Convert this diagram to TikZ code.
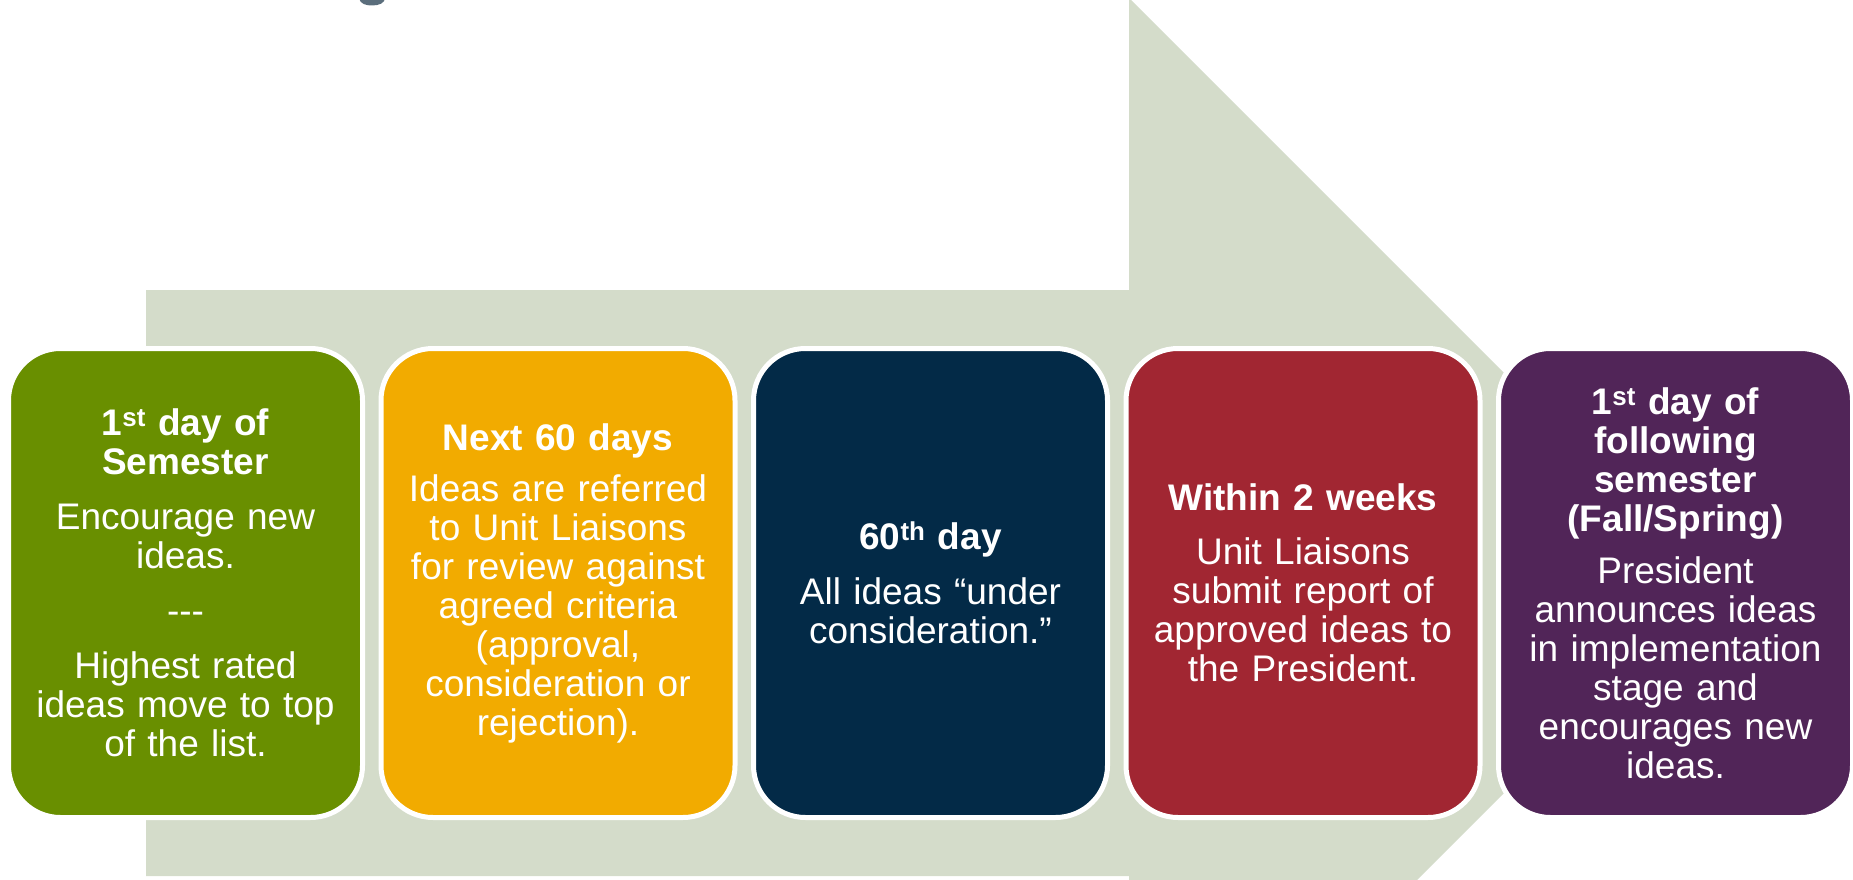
\documentclass[tikz,border=0pt]{standalone}
\usepackage{fontspec}
\setmainfont{Liberation Sans}
\definecolor{arrowgray}{HTML}{D4DCCA}
\definecolor{stepgreen}{HTML}{698F00}
\definecolor{steporange}{HTML}{F2AB00}
\definecolor{stepnavy}{HTML}{032A47}
\definecolor{stepred}{HTML}{A12632}
\definecolor{steppurple}{HTML}{512558}
\definecolor{titlegray}{HTML}{5B6E7C}
\begin{document}
\begin{tikzpicture}[x=1pt,y=-1pt,
  stepbox/.style={draw=white, line width=5pt, rounded corners=52pt,
    minimum width=354pt, minimum height=469pt, inner sep=0pt,
    text width=340pt, align=center, text=white,
    font=\fontsize{37}{39}\selectfont}]
\useasboundingbox (0,0) rectangle (1853,880);
\clip (0,0) rectangle (1853,880);
% big background arrow
\fill[arrowgray] (146,290) -- (1129,290) -- (1129,-2) -- (1714,583)
  -- (1129,1168) -- (1129,876) -- (146,876) -- cycle;
% fragment of a title letter cut by the top edge
\fill[titlegray] (359,-2) .. controls (360,4) and (366,5.5) .. (372,5.5)
  .. controls (379,5.5) and (385,3) .. (385,-2) -- cycle;
% steps
\node[stepbox, fill=stepgreen] (s1) at (185.5,583)
  {{\bfseries 1\textsuperscript{st} day of\\ Semester}\\[16pt]
   Encourage new\\ ideas.\\[16pt] -{}-{}-\\[16pt]
   Highest rated\\ ideas move to top\\ of the list.};
\node[stepbox, fill=steporange] (s2) at (558,583)
  {{\bfseries Next 60 days}\\[12pt]
   Ideas are referred\\ to Unit Liaisons\\ for review against\\
   agreed criteria\\ (approval,\\ consideration or\\ rejection).};
\node[stepbox, fill=stepnavy] (s3) at (930.5,583)
  {{\bfseries 60\textsuperscript{th} day}\\[16pt]
   All ideas “under\\ consideration.”};
\node[stepbox, fill=stepred] (s4) at (1303,583)
  {{\bfseries Within 2 weeks}\\[15pt]
   Unit Liaisons\\ submit report of\\ approved ideas to\\ the President.};
\node[stepbox, fill=steppurple] (s5) at (1675.5,583)
  {{\bfseries 1\textsuperscript{st} day of\\ following\\ semester\\ (Fall/Spring)}\\[13pt]
   President\\ announces ideas\\ in implementation\\ stage and\\
   encourages new\\ ideas.};
\end{tikzpicture}
\end{document}
